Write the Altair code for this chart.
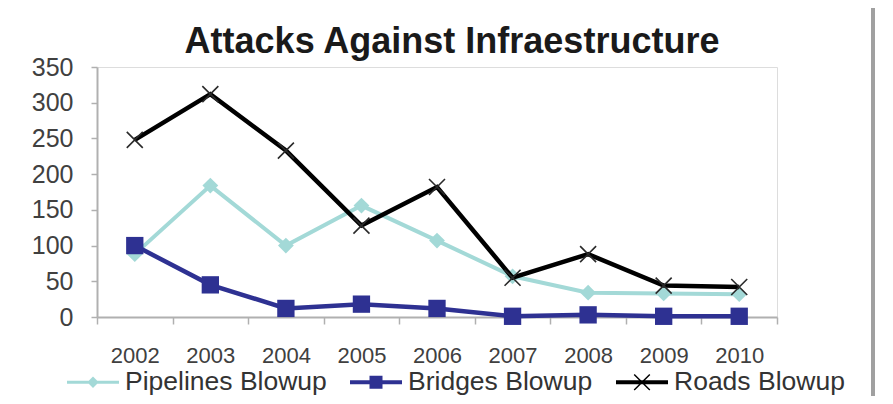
import altair as alt
import pandas as pd

years = ["2002", "2003", "2004", "2005", "2006", "2007", "2008", "2009", "2010"]
series_names = ["Pipelines Blowup", "Bridges Blowup", "Roads Blowup"]
pipelines = [88, 184, 100, 156, 107, 57, 34, 33, 32]
bridges = [100, 45, 12, 18, 12, 1, 3, 1, 1]
roads = [248, 312, 233, 128, 182, 55, 88, 44, 42]
y_ticks = [0, 50, 100, 150, 200, 250, 300, 350]

line_colors = ["#a3d9d7", "#2e3192", "#000000"]
marker_colors = ["#a3d9d7", "#2e3192", "#2a2a2a"]

rows = []
for name, vals in zip(series_names, [pipelines, bridges, roads]):
    for yr, v in zip(years, vals):
        rows.append({"year": yr, "value": v, "series": name})
df = pd.DataFrame(rows)

FONT = "Liberation Sans"

x_enc = alt.X(
    "year:N", sort=years,
    scale=alt.Scale(type="band", paddingInner=0, paddingOuter=0),
    axis=alt.Axis(title=None, labelAngle=0, tickBand="extent", labelFontSize=22,
                  labelFont=FONT, labelColor="#404040", labelPadding=21,
                  tickSize=7, tickColor="#b0b0b0", domainColor="#b0b0b0",
                  domainWidth=2, tickWidth=1.5),
)
y_enc = alt.Y(
    "value:Q",
    scale=alt.Scale(domain=[0, 350], nice=False),
    axis=alt.Axis(title=None, values=y_ticks, labelFontSize=25, labelFont=FONT,
                  labelColor="#404040", labelPadding=18, tickSize=6,
                  tickColor="#b0b0b0", domainColor="#b0b0b0", domainWidth=2,
                  tickWidth=1.5, grid=False),
)

base = alt.Chart(df)

X_PATH = "M-1,-1L1,1M-1,1L1,-1"
marker_specs = [
    dict(shape="diamond", filled=True, size=250, strokeWidth=0),
    dict(shape="square", filled=True, size=300, strokeWidth=0),
    dict(shape=X_PATH, filled=False, size=256, strokeWidth=1.6),
]
line_widths = [4, 4.5, 4.5]

series_layers = []
for name, lc, mc, spec, lw in zip(series_names, line_colors, marker_colors, marker_specs, line_widths):
    sub = base.transform_filter(alt.datum.series == name)
    series_layers.append(sub.mark_line(color=lc, strokeWidth=lw).encode(x=x_enc, y=y_enc))
    series_layers.append(sub.mark_point(color=mc, opacity=1, **spec).encode(x=x_enc, y=y_enc))

# Legend symbols: line segment with marker (filled shapes)
legend_paths = [
    "M-1,-0.06H1V0.06H-1Z M0,-0.22L0.22,0L0,0.22L-0.22,0Z",
    "M-1,-0.08H1V0.08H-1Z M-0.25,-0.25H0.25V0.25H-0.25Z",
    "M-1,-0.08H1V0.08H-1Z M-0.28,-0.32L0.32,0.28L0.28,0.32L-0.32,-0.28Z M-0.32,0.28L0.28,-0.32L0.32,-0.28L-0.28,0.32Z",
]
legend_fill = ["#a3d9d7", "#2e3192", "#000000"]

# legend carrier: its own points sit far below the page, only its legend shows
carrier = base.mark_point(filled=True, opacity=1).encode(
    x=alt.value(100), y=alt.value(3000),
    fill=alt.Fill("series:N", scale=alt.Scale(domain=series_names, range=legend_fill),
                  legend=alt.Legend(
                      title=None, orient="none", legendX=-30, legendY=289,
                      direction="horizontal", symbolSize=2704, symbolStrokeWidth=0,
                      symbolOpacity=1,
                      labelFontSize=26.5, labelFont=FONT, labelColor="#333333",
                      labelOffset=6, columnPadding=23, labelLimit=400,
                  )),
    shape=alt.Shape("series:N", scale=alt.Scale(domain=series_names, range=legend_paths)),
)

border = alt.Chart(df).mark_rule(color="#a0a0a0", strokeWidth=2.5).encode(
    x=alt.value(776), y=alt.value(-62), y2=alt.value(334)
)

chart = alt.layer(*series_layers, carrier, border).properties(
    width=680, height=250,
    padding={"left": 89, "top": 59, "right": 108, "bottom": 79},
    autosize=alt.AutoSizeParams(type="none"),
    title=alt.TitleParams(
        "Attacks Against Infraestructure", fontSize=36, font=FONT,
        fontWeight="bold", color="#1a1a1a", anchor="middle", dx=15,
        baseline="alphabetic", offset=-85, frame="group",
    ),
).configure_view(strokeWidth=0).configure(background="white")

chart.save("out.html", embed_options={"renderer": "svg", "actions": False})
